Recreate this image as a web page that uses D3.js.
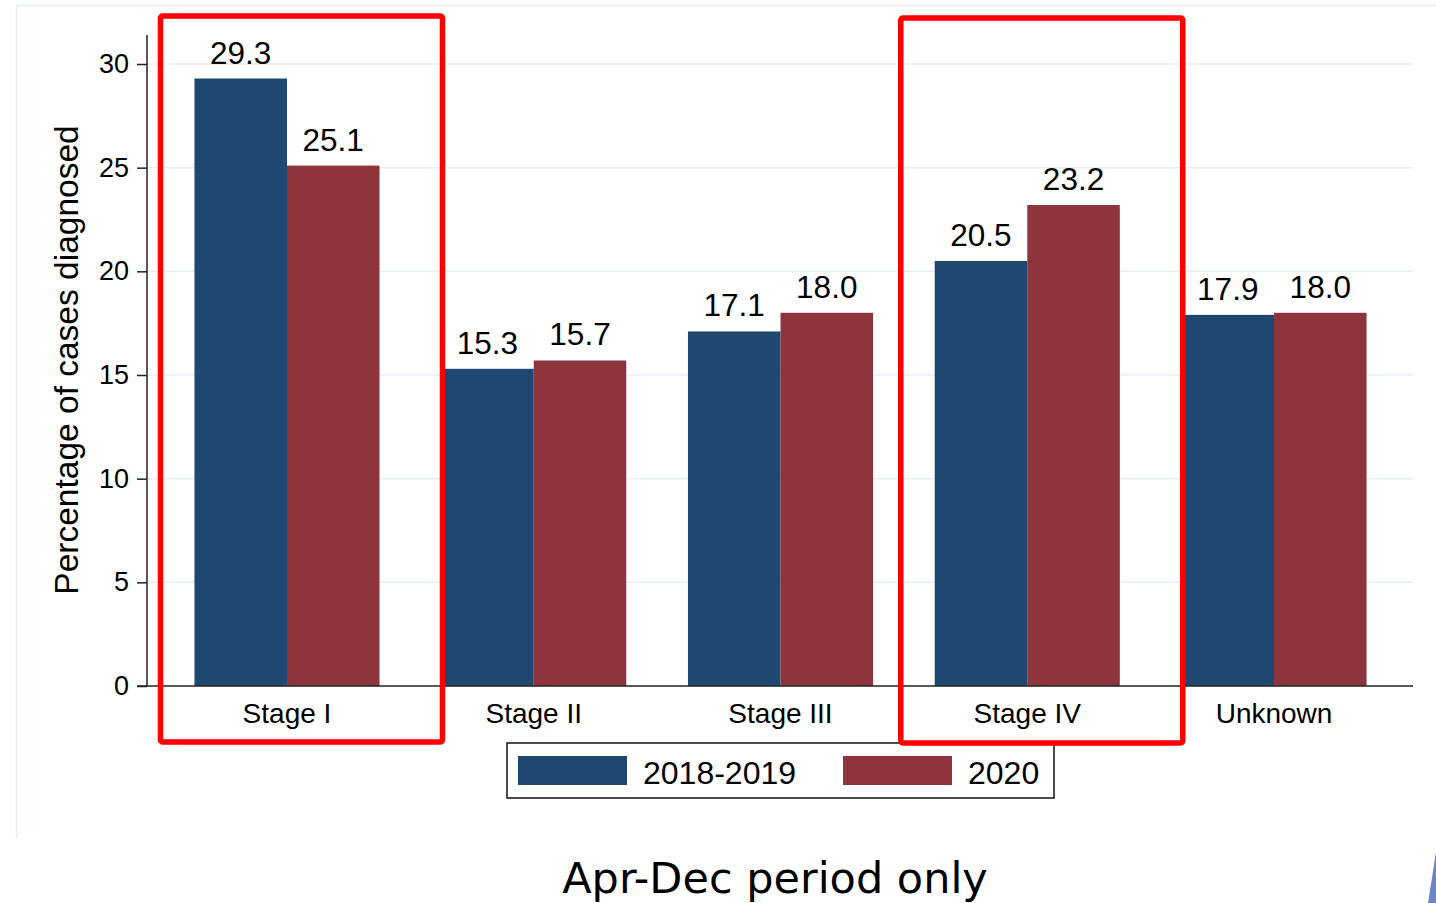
<!DOCTYPE html>
<html>
<head>
<meta charset="utf-8">
<script src="https://cdn.jsdelivr.net/npm/d3@7"></script>
<style>
  html, body { margin: 0; padding: 0; background: #ffffff; }
  svg { display: block; }
</style>
</head>
<body>
<svg id="chart" width="1436" height="903"></svg>
<script>
// Stage at diagnosis, share of cases (%)
const stages = ["Stage I", "Stage II", "Stage III", "Stage IV", "Unknown"];
const periods = ["2018-2019", "2020"];
const values2018_2019 = [29.3, 15.3, 17.1, 20.5, 17.9];
const values2020 = [25.1, 15.7, 18.0, 23.2, 18.0];
const yTicks = [0, 5, 10, 15, 20, 25, 30];
const highlighted = ["Stage I", "Stage IV"];
const subtitle = "Apr-Dec period only";

const colors = { "2018-2019": "#1e4870", "2020": "#8e343c" };
const seriesValues = { "2018-2019": values2018_2019, "2020": values2020 };

const svg = d3.select("#chart");
const font = "'Liberation Sans', Arial, sans-serif";

// Panel outline
svg.append("path")
  .attr("d", "M16.5,838 V5.5 H1436")
  .attr("fill", "none")
  .attr("stroke", "#e6edf1")
  .attr("stroke-width", 1.5);

const plot = { left: 147, right: 1413, top: 35, bottom: 686 };

const y = d3.scaleLinear().domain([0, 30]).range([686, 64]);

const x0 = d3.scaleBand().domain(stages).range([163.6, 1397.4]).padding(0);
const x1 = d3.scaleBand().domain(periods)
  .range([x0.step() * 0.125, x0.step() * 0.875]).padding(0);

// Gridlines
svg.append("g")
  .selectAll("line")
  .data(yTicks.filter(t => t > 0))
  .join("line")
  .attr("x1", plot.left).attr("x2", plot.right)
  .attr("y1", d => y(d)).attr("y2", d => y(d))
  .attr("stroke", "#e8eff3")
  .attr("stroke-width", 1.5);

// Bars
const rows = stages.map((s, i) => ({
  stage: s,
  items: periods.map(p => ({ period: p, value: seriesValues[p][i] }))
}));

const groups = svg.append("g")
  .selectAll("g")
  .data(rows)
  .join("g")
  .attr("transform", d => `translate(${x0(d.stage)},0)`);

groups.selectAll("rect")
  .data(d => d.items)
  .join("rect")
  .attr("x", d => x1(d.period))
  .attr("width", x1.bandwidth())
  .attr("y", d => y(d.value))
  .attr("height", d => y(0) - y(d.value))
  .attr("fill", d => colors[d.period]);

groups.selectAll("text")
  .data(d => d.items)
  .join("text")
  .attr("x", d => x1(d.period) + x1.bandwidth() / 2)
  .attr("y", d => y(d.value) - 15)
  .attr("text-anchor", "middle")
  .attr("font-family", font)
  .attr("font-size", 31.5)
  .attr("fill", "#000")
  .text(d => d.value.toFixed(1));

// Y axis
const yAxis = d3.axisLeft(y).tickValues(yTicks).tickSize(10).tickPadding(8);
const yG = svg.append("g")
  .attr("transform", `translate(${plot.left},0)`)
  .call(yAxis);
yG.select(".domain").remove();
yG.append("line")
  .attr("x1", 0).attr("x2", 0)
  .attr("y1", plot.top).attr("y2", plot.bottom)
  .attr("stroke", "#222").attr("stroke-width", 1.5);
yG.selectAll(".tick line").attr("stroke", "#222").attr("stroke-width", 1.5);
yG.selectAll(".tick text")
  .attr("font-family", font)
  .attr("font-size", 27)
  .attr("fill", "#000");

// X axis
const xAxis = d3.axisBottom(x0).tickSize(0).tickPadding(17);
const xG = svg.append("g")
  .attr("transform", `translate(0,${plot.bottom})`)
  .call(xAxis);
xG.select(".domain").remove();
xG.append("line")
  .attr("x1", plot.left - 10).attr("x2", plot.right)
  .attr("y1", 0).attr("y2", 0)
  .attr("stroke", "#222").attr("stroke-width", 1.5);
xG.selectAll(".tick text")
  .attr("font-family", font)
  .attr("font-size", 28)
  .attr("fill", "#000");

// Y axis title
svg.append("text")
  .attr("transform", "translate(78,360) rotate(-90)")
  .attr("text-anchor", "middle")
  .attr("font-family", font)
  .attr("font-size", 33.5)
  .attr("fill", "#000")
  .text("Percentage of cases diagnosed");

// Legend
const legend = svg.append("g");
legend.append("rect")
  .attr("x", 507).attr("y", 743)
  .attr("width", 547).attr("height", 55)
  .attr("fill", "#fff")
  .attr("stroke", "#111")
  .attr("stroke-width", 1.5);
const legendX = { "2018-2019": 518, "2020": 843 };
periods.forEach(p => {
  legend.append("rect")
    .attr("x", legendX[p]).attr("y", 756)
    .attr("width", 109).attr("height", 29)
    .attr("fill", colors[p]);
  legend.append("text")
    .attr("x", legendX[p] + 125).attr("y", 784)
    .attr("font-family", font)
    .attr("font-size", 32)
    .attr("fill", "#000")
    .text(p);
});

// Highlight boxes around selected stages
svg.append("g")
  .selectAll("rect")
  .data(highlighted)
  .join("rect")
  .attr("x", d => x0(d) + x0.step() / 2 - 126.5)
  .attr("y", (d, i) => i === 0 ? 16 : 18)
  .attr("width", 282)
  .attr("height", (d, i) => i === 0 ? 726 : 725)
  .attr("rx", 2)
  .attr("fill", "none")
  .attr("stroke", "#ff0000")
  .attr("stroke-width", 5.5);

// Subtitle
svg.append("text")
  .attr("x", 775).attr("y", 893)
  .attr("text-anchor", "middle")
  .attr("font-family", "'DejaVu Sans', Verdana, sans-serif")
  .attr("font-size", 43)
  .attr("fill", "#000")
  .text(subtitle);

// Corner accent
svg.append("polygon")
  .attr("points", "1436,852 1436,903 1428,903")
  .attr("fill", "#6a84c4");
</script>
</body>
</html>
